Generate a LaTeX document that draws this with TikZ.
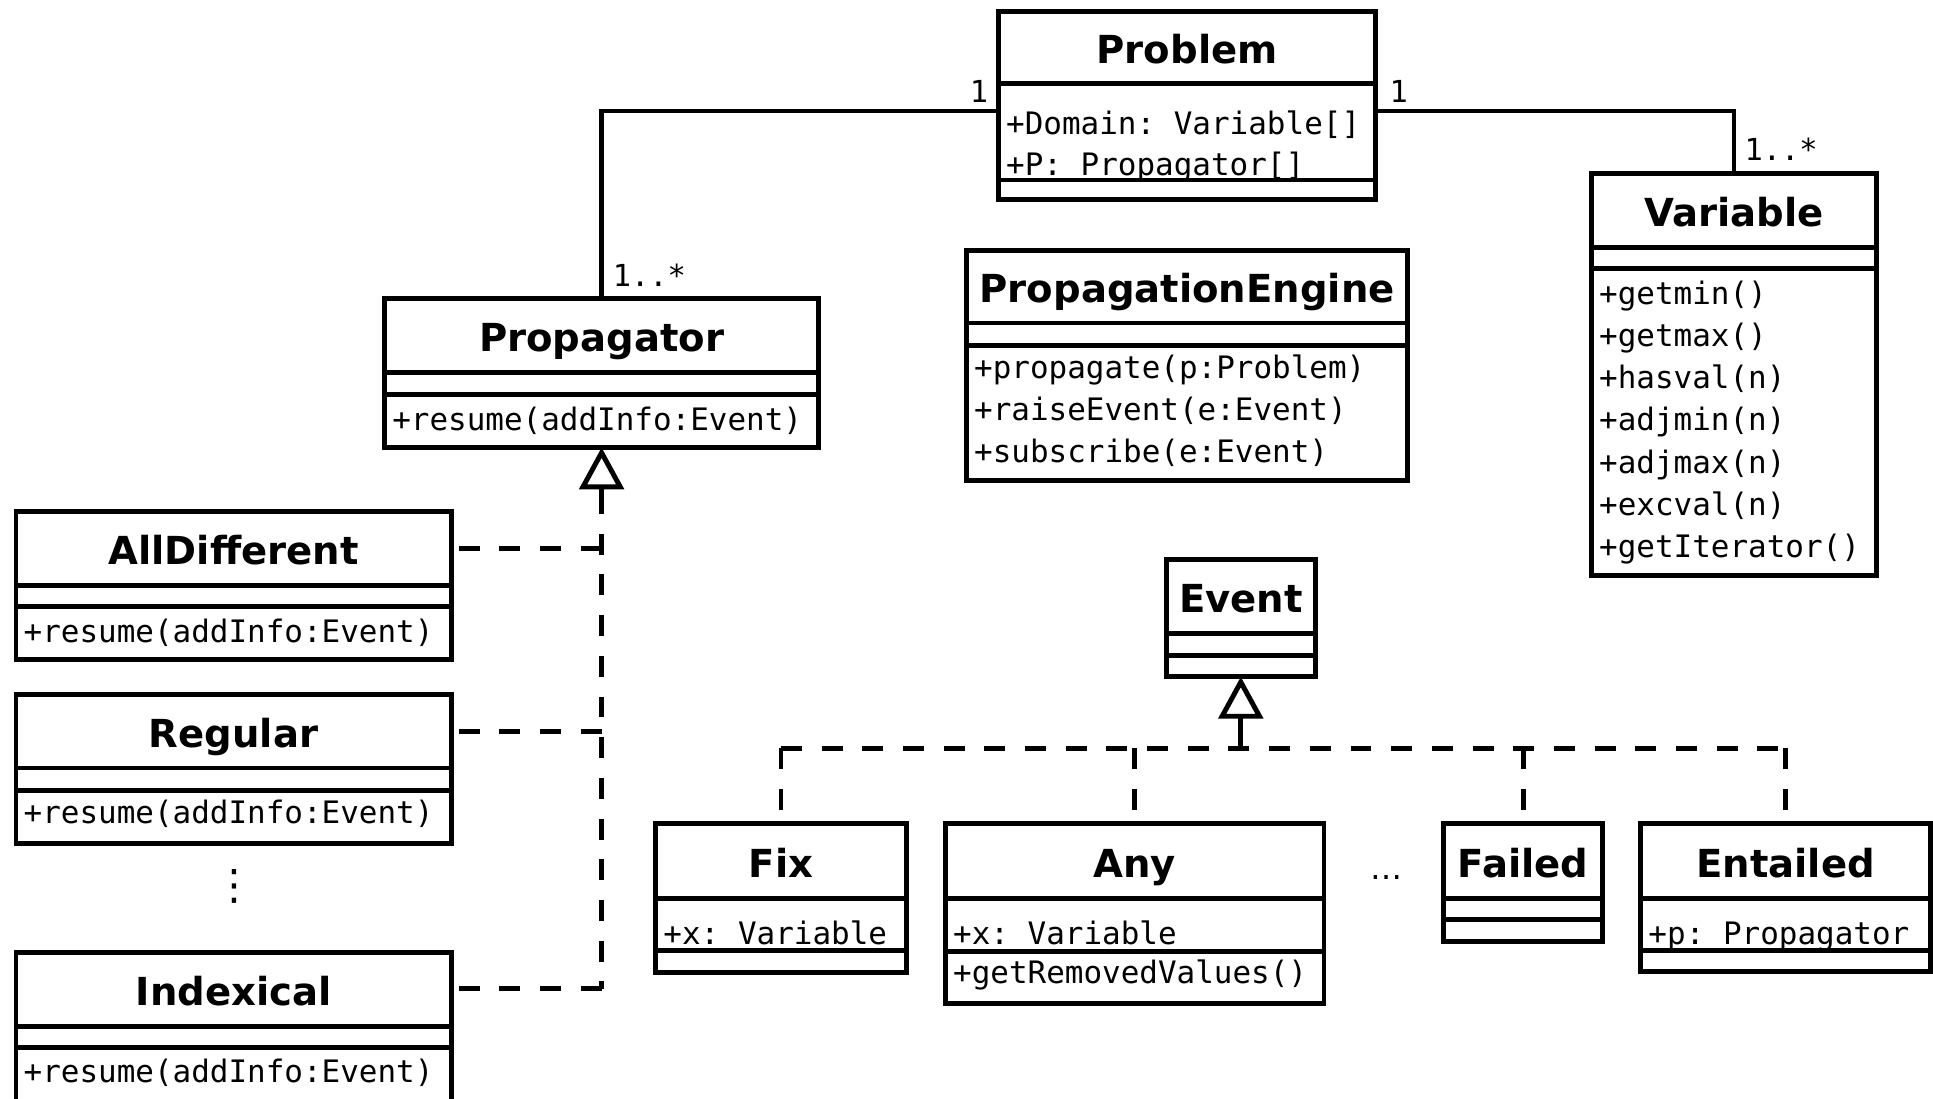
\documentclass[tikz,border=0pt]{standalone}
\usepackage{fontspec}
\setmainfont{DejaVu Sans}
\newfontfamily\monof{DejaVu Sans Mono}
\usetikzlibrary{arrows.meta}
\frenchspacing
\tikzset{
  box/.style={draw, line width=4pt, fill=white, inner sep=0pt, outer sep=0pt, anchor=north west},
  ttl/.style={font=\fontsize{31.3}{36}\selectfont\bfseries, inner sep=0pt, anchor=base},
  mem/.style={font=\fontsize{25.1}{30}\selectfont\monof\frenchspacing, inner sep=0pt, anchor=base west},
  mult/.style={font=\fontsize{24.6}{30}\selectfont\monof\frenchspacing, inner sep=0pt, anchor=base west},
  part/.style={draw, line width=4pt, fill=white},
  divl/.style={line width=4pt},
  assoc/.style={line width=3.6pt},
  realize/.style={line width=4pt, dash pattern=on 17pt off 16pt},
  gen/.style={line width=4pt, -{Triangle[open, length=34pt, width=36pt, line width=4pt]}},
}
% name, L, R, T, D1, D2, B, title
\newcommand\umlcls[8]{%
  \node[box, minimum width={#3-#2}, minimum height={#7-#4}] (#1) at (#2,#4) {};
  \node[ttl] (#1-t) at ({(#2+#3)/2},{(#4+#5)/2+13}) {#8};
  \draw[divl] (#2,#5) -- (#3,#5);
}
\begin{document}
\begin{tikzpicture}[x=1pt, y=-1pt]
\useasboundingbox (0,0) rectangle (1568,891);

% ---------------- Problem
\umlcls{problem}{810}{1116}{9}{68}{146}{162}{Problem}
\node[mem] (problem-a1) at (816,109) {+Domain: Variable[]};
\node[mem] (problem-a2) at (816,142) {+P: Propagator[]};
\draw[part] (810,146) rectangle (1116,162);

% ---------------- Variable
\umlcls{variable}{1291}{1522}{141}{201}{218}{467}{Variable}
\draw[divl] (1291,218) -- (1522,218);
\node[mem] (variable-m1) at (1297,247) {+getmin()};
\node[mem] (variable-m2) at (1297,281.2) {+getmax()};
\node[mem] (variable-m3) at (1297,315.4) {+hasval(n)};
\node[mem] (variable-m4) at (1297,349.6) {+adjmin(n)};
\node[mem] (variable-m5) at (1297,383.8) {+adjmax(n)};
\node[mem] (variable-m6) at (1297,418) {+excval(n)};
\node[mem] (variable-m7) at (1297,452.2) {+getIterator()};

% ---------------- PropagationEngine
\umlcls{engine}{784}{1142}{203}{262}{280}{390}{PropagationEngine}
\draw[divl] (784,280) -- (1142,280);
\node[mem] (engine-m1) at (790,307) {+propagate(p:Problem)};
\node[mem] (engine-m2) at (790,341) {+raiseEvent(e:Event)};
\node[mem] (engine-m3) at (790,375) {+subscribe(e:Event)};

% ---------------- Propagator
\umlcls{propagator}{312}{664}{242}{302}{320}{363}{Propagator}
\draw[divl] (312,320) -- (664,320);
\node[mem] (propagator-m1) at (318,349) {+resume(addInfo:Event)};

% ---------------- Event
\umlcls{event}{946}{1067}{454}{514}{532}{549}{Event}
\draw[divl] (946,532) -- (1067,532);

% ---------------- AllDifferent
\umlcls{alldiff}{13}{366}{415}{475}{492}{535}{AllDifferent}
\draw[divl] (13,492) -- (366,492);
\node[mem] (alldiff-m1) at (19,521) {+resume(addInfo:Event)};

% ---------------- Regular
\umlcls{regular}{13}{366}{563}{623}{641}{684}{Regular}
\draw[divl] (13,641) -- (366,641);
\node[mem] (regular-m1) at (19,668) {+resume(addInfo:Event)};

% ---------------- Indexical
\umlcls{indexical}{13}{366}{773}{833}{850}{900}{Indexical}
\draw[divl] (13,850) -- (366,850);
\node[mem] (indexical-m1) at (19,878) {+resume(addInfo:Event)};

% ---------------- Fix
\umlcls{fix}{532}{735}{668}{729}{771}{789}{Fix}
\node[mem] (fix-a1) at (538,766) {+x: Variable};
\draw[part] (532,771) rectangle (735,789);

% ---------------- Any
\umlcls{any}{767}{1074}{668}{729}{772}{814}{Any}
\node[mem] (any-a1) at (773,766) {+x: Variable};
\draw[part] (767,772) rectangle (1074,814);
\node[mem] (any-m1) at (773,798) {+getRemovedValues()};

% ---------------- Failed
\umlcls{failed}{1171}{1300}{668}{729}{746}{764}{Failed}
\draw[divl] (1171,746) -- (1300,746);

% ---------------- Entailed
\umlcls{entailed}{1331}{1566}{668}{729}{771}{788}{Entailed}
\node[mem] (entailed-a1) at (1337,766) {+p: Propagator};
\draw[part] (1331,771) rectangle (1566,788);

% ---------------- ellipses
\node[inner sep=0pt, font=\fontsize{34}{34}\selectfont] (vdots) at (190,719) {⋮};
\node[inner sep=0pt, font=\fontsize{26}{26}\selectfont] (hdots) at (1125,712) {…};

% ---------------- associations
\coordinate (cl) at (488,90);
\coordinate (cr) at (1406.5,90);
\draw[assoc] (problem.west |- cl) -- (cl) -- (propagator.north);
\draw[assoc] (problem.east |- cr) -- (cr) -- (variable.north);
\node[mult] (m1) at (786.5,83.5) {1};
\node[mult] (m2) at (1127,83.5) {1};
\node[mult] (m3) at (497,232) {1..*};
\node[mult] (m4) at (1415,130) {1..*};

% ---------------- Propagator realizations
\coordinate (pj) at (488,400);
\coordinate (pb) at (488,802);
\coordinate (pa) at (488,445);
\coordinate (pr) at (488,593);
\draw[gen] (pj) -- (propagator.south);
\draw[realize] (pj) -- (pb);
\draw[realize] (pa) -- (alldiff.east |- pa);
\draw[realize] (pr) -- (regular.east |- pr);
\draw[realize] (pb) -- (indexical.east |- pb);

% ---------------- Event subclasses
\coordinate (ej) at (1006.5,607);
\coordinate (el) at (633.5,607);
\coordinate (er) at (1448.5,607);
\draw[gen] (ej) -- (event.south);
\draw[realize] (el) -- (er);
\draw[realize] (el) -- (fix.north);
\draw[realize] (any.north |- ej) -- (any.north);
\draw[realize] (failed.north |- ej) -- (failed.north);
\draw[realize] (er) -- (entailed.north);
\end{tikzpicture}
\end{document}
